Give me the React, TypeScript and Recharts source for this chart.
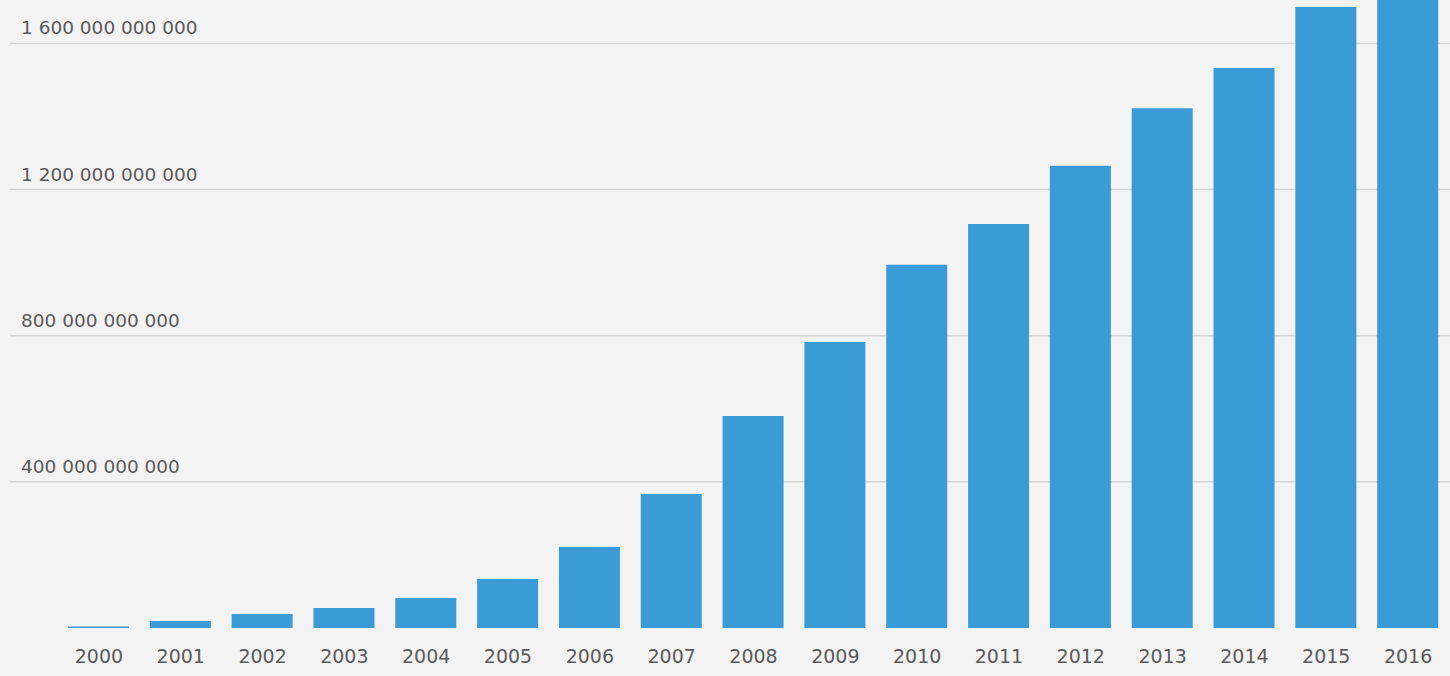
import React from 'react';
import { BarChart, Bar, XAxis, YAxis, CartesianGrid } from 'recharts';

const years = ['2000','2001','2002','2003','2004','2005','2006','2007','2008','2009','2010','2011','2012','2013','2014','2015','2016'];
const values = [4e9, 19e9, 38e9, 55e9, 82e9, 134e9, 222e9, 367e9, 580e9, 783e9, 994e9, 1106e9, 1265e9, 1423e9, 1533e9, 1700e9, 1790e9];
const yTicks = [0, 400e9, 800e9, 1200e9, 1600e9];
const gridValues = [400e9, 800e9, 1200e9, 1600e9];
const yMax = 1719e9;

const data = years.map((y, i) => ({ year: y, value: values[i] }));

const fmt = (v: number) => String(Math.round(v)).replace(/\B(?=(\d{3})+(?!\d))/g, ' ');

const YTick = (props: any) => {
  const { y, payload } = props;
  if (!payload || payload.value === 0) return null;
  return (
    <text x={21} y={y - 9} fill="#5a5a5a" fontSize={18.5} fontFamily="DejaVu Sans" textAnchor="start">
      {fmt(payload.value)}
    </text>
  );
};

const XTick = (props: any) => {
  const { x, payload } = props;
  return (
    <text x={x} y={663} fill="#5a5a5a" fontSize={19} fontFamily="DejaVu Sans" textAnchor="middle">
      {payload.value}
    </text>
  );
};

export default function App() {
  return (
    <div style={{ position: 'absolute', left: 0, top: 0, width: 1450, height: 676, background: '#f3f3f3' }}>
      <BarChart width={1450} height={676} data={data} margin={{ top: 0, right: 0, bottom: 0, left: 0 }} barSize={61}>
        <CartesianGrid horizontal vertical={false} horizontalValues={gridValues} stroke="#d6d6d6" strokeWidth={1.5} />
        <XAxis dataKey="year" height={48} axisLine={false} tickLine={false} tick={<XTick />} padding={{ left: 48, right: 1 }} interval={0} />
        <YAxis width={10} axisLine={false} tickLine={false} domain={[0, yMax]} ticks={yTicks} allowDataOverflow tick={<YTick />} />
        <Bar dataKey="value" fill="#3a9bd6" isAnimationActive={false} />
      </BarChart>
    </div>
  );
}
